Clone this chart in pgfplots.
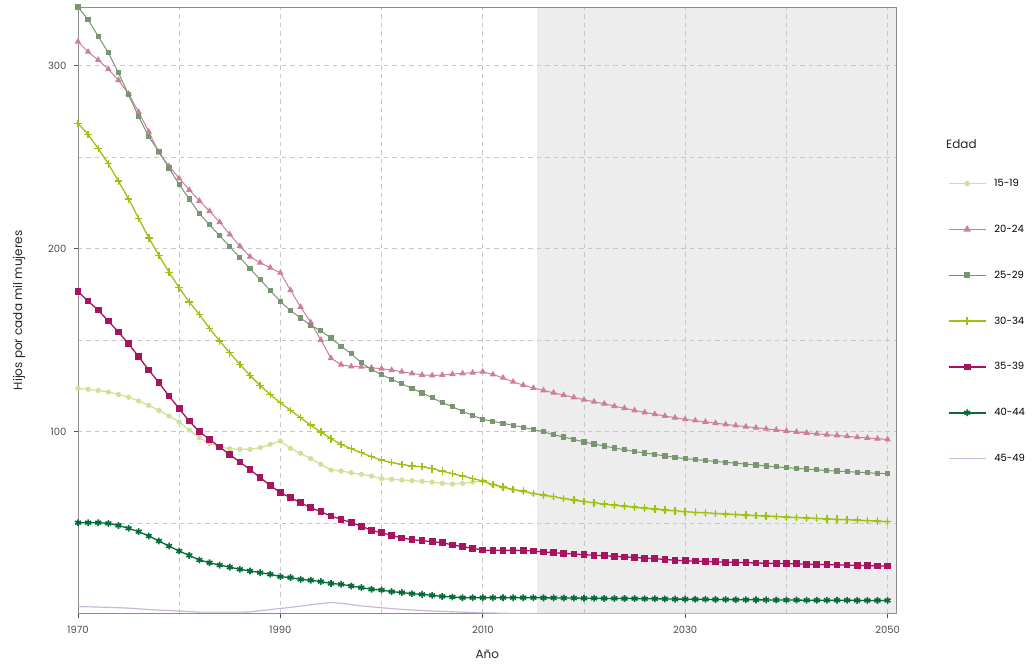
\documentclass[border=0pt]{standalone}
\usepackage{pgfplots}
\pgfplotsset{compat=1.18}
\usepackage{pgfplotstable}
\usepackage{fontspec}
\setmainfont{Poppins}
\definecolor{cA}{HTML}{CFE196}
\definecolor{cB}{HTML}{CC7E9B}
\definecolor{cC}{HTML}{789670}
\definecolor{cD}{HTML}{9DC214}
\definecolor{cE}{HTML}{A8135F}
\definecolor{cF}{HTML}{056B37}
\definecolor{cG}{HTML}{CBB5DA}
\definecolor{shade}{HTML}{EDEDED}
\definecolor{gridc}{HTML}{C8C8C8}
\definecolor{framec}{HTML}{8C8C8C}
\definecolor{tickc}{HTML}{4D4D4D}

\pgfplotstableread{
year a b c d e f g
1970 123.5 313.0 332.0 268.3 176.5 50.1 4.2
1971 123.0 307.5 325.0 262.3 171.2 50.1 4.1
1972 122.4 303.0 316.0 254.6 166.3 50.1 4.0
1973 121.5 298.0 307.0 246.3 160.3 49.7 3.8
1974 120.2 292.0 296.0 236.8 154.3 48.6 3.6
1975 118.7 284.5 284.0 227.1 147.9 47.0 3.4
1976 116.6 274.5 272.0 216.4 140.8 45.2 3.0
1977 114.2 263.8 261.0 205.8 133.5 42.8 2.6
1978 111.5 252.3 253.0 196.2 126.6 40.1 2.3
1979 108.4 245.0 244.0 187.0 119.3 37.3 2.1
1980 105.1 238.3 235.0 178.5 112.4 34.6 1.8
1981 100.7 232.0 227.0 170.7 105.6 32.2 1.5
1982 96.6 226.0 219.0 163.9 99.8 29.7 1.2
1983 93.4 220.4 213.0 156.3 95.6 28.2 1.2
1984 91.6 214.4 207.0 149.4 91.4 26.9 1.2
1985 90.5 207.7 201.0 143.0 87.4 25.8 1.2
1986 90.2 201.3 195.0 136.6 83.2 24.6 1.2
1987 90.2 195.5 189.0 130.6 79.2 23.7 1.3
1988 91.1 192.2 183.0 125.1 74.7 22.8 2.0
1989 92.9 189.5 177.0 120.2 70.5 21.9 2.6
1990 94.7 186.7 171.0 115.7 66.5 20.6 3.2
1991 90.7 177.2 166.0 111.5 63.8 20.1 3.8
1992 88.0 168.0 162.0 107.5 61.0 19.1 4.5
1993 85.1 159.6 158.0 103.4 58.3 18.6 5.2
1994 82.0 150.0 155.0 99.6 56.1 17.9 5.9
1995 78.9 140.0 151.0 96.0 53.7 16.9 6.5
1996 78.3 136.5 146.5 92.9 51.9 16.4 6.0
1997 77.4 135.5 142.5 90.5 50.2 15.5 5.3
1998 76.5 135.3 137.5 88.3 48.2 14.6 4.6
1999 75.6 134.8 133.9 86.2 45.9 13.7 4.1
2000 74.2 134.3 131.0 84.3 44.6 13.3 3.6
2001 73.8 133.5 128.4 82.9 43.2 12.4 3.1
2002 73.4 132.6 126.0 82.0 41.7 11.9 2.7
2003 73.1 131.7 123.5 81.0 40.8 11.3 2.4
2004 72.7 130.9 121.0 80.7 40.3 10.9 2.1
2005 72.3 130.6 118.4 79.6 39.7 10.4 1.8
2006 71.6 130.8 115.7 78.3 39.2 9.8 1.6
2007 71.2 131.3 113.5 76.9 37.9 9.5 1.4
2008 71.6 131.7 111.0 75.6 37.0 9.1 1.2
2009 72.3 132.1 108.7 74.2 36.1 9.1 1.0
2010 72.9 132.6 106.6 72.9 35.1 9.1 0.8
2011 70.7 131.1 105.5 71.0 35.0 9.1 0.7
2012 69.3 129.3 104.4 69.6 35.0 9.1 0.6
2013 68.0 127.1 103.3 68.3 35.0 9.1 0.5
2014 67.1 125.3 102.2 67.4 34.9 9.1 0.5
2015 65.8 123.7 101.0 66.1 34.6 9.1 0.4
2016 64.9 122.4 99.8 65.2 34.1 9.0 0.4
2017 64.0 121.1 98.2 64.3 33.7 9.0 0.4
2018 63.1 119.8 96.9 63.4 33.3 8.9 0.4
2019 62.2 118.6 95.6 62.5 33.0 8.9 0.4
2020 61.4 117.3 94.2 61.7 32.6 8.8 0.4
2021 60.7 116.2 93.1 61.0 32.3 8.8 0.4
2022 60.0 115.1 92.0 60.3 32.0 8.7 0.4
2023 59.4 113.8 90.9 59.7 31.7 8.7 0.4
2024 58.9 112.7 90.0 59.2 31.4 8.6 0.4
2025 58.3 111.5 89.0 58.6 31.1 8.6 0.4
2026 57.8 110.4 88.2 58.1 30.7 8.5 0.4
2027 57.3 109.4 87.4 57.6 30.4 8.5 0.4
2028 56.8 108.4 86.6 57.1 30.0 8.4 0.4
2029 56.3 107.5 85.8 56.6 29.6 8.3 0.4
2030 55.8 106.6 85.1 56.1 29.3 8.3 0.4
2031 55.5 105.9 84.6 55.8 29.1 8.2 0.4
2032 55.2 105.2 84.1 55.5 28.9 8.2 0.4
2033 54.9 104.5 83.6 55.2 28.7 8.1 0.4
2034 54.6 103.8 83.1 54.9 28.5 8.1 0.4
2035 54.3 103.2 82.6 54.6 28.4 8.0 0.4
2036 54.0 102.6 82.1 54.3 28.2 8.0 0.4
2037 53.7 102.0 81.6 54.0 28.1 7.9 0.4
2038 53.4 101.4 81.1 53.7 27.9 7.9 0.4
2039 53.2 100.8 80.6 53.5 27.8 7.8 0.4
2040 52.9 100.2 80.2 53.2 27.7 7.8 0.4
2041 52.7 99.7 79.8 53.0 27.6 7.8 0.4
2042 52.4 99.2 79.4 52.7 27.4 7.7 0.4
2043 52.2 98.7 79.0 52.5 27.3 7.7 0.4
2044 51.9 98.2 78.6 52.2 27.2 7.7 0.4
2045 51.7 97.8 78.3 52.0 27.0 7.7 0.4
2046 51.4 97.3 78.0 51.7 26.9 7.7 0.4
2047 51.2 96.8 77.7 51.5 26.8 7.6 0.4
2048 50.9 96.4 77.4 51.2 26.6 7.6 0.4
2049 50.7 96.0 77.1 51.0 26.5 7.6 0.4
2050 50.4 95.6 76.9 50.7 26.4 7.6 0.4
}\data

\begin{document}
\begin{tikzpicture}
\begin{axis}[
  name=ax,
  set layers,
  at={(78pt,55pt)}, anchor=south west,
  scale only axis,
  width=819pt, height=607pt,
  xmin=1970, xmax=2050.9,
  ymin=0.3, ymax=332,
  xtick={1970,1990,2010,2030,2050},
  minor xtick={1980,2000,2020,2040},
  ytick={100,200,300},
  minor ytick={50,150,250},
  grid=both,
  major grid style={gridc, dash pattern=on 4.5pt off 4pt, line width=0.6pt},
  minor grid style={gridc, dash pattern=on 4.5pt off 4pt, line width=0.6pt},
  minor tick length=0pt,
  major tick length=4pt,
  tick align=outside,
  tick pos=left,
  major tick style={tickc, line width=0.8pt},
  axis line style={framec, line width=0.8pt},
  /pgf/number format/assume math mode=true,
  /pgf/number format/1000 sep={},
  ticklabel style={font=\fontsize{10}{12}\selectfont, text=tickc},
  xticklabel style={yshift=-5pt},
  yticklabel style={xshift=-4pt},
  xlabel={Año}, ylabel={Hijos por cada mil mujeres},
  label style={font=\fontsize{12}{14}\selectfont, text=black!85},
  xlabel style={yshift=-9pt},
  ylabel style={yshift=16pt},
  legend style={at={(1,1)}, anchor=north west, xshift=51pt, yshift=-170pt,
    draw=none, fill=none, font=\fontsize{10}{12}\selectfont, row sep=33pt,
    inner sep=0pt, nodes={inner xsep=8pt}},
  legend cell align=left,
  legend image code/.code={\draw[mark repeat=2,mark phase=2, line width=1.5pt] plot coordinates {(0pt,0pt) (18.5pt,0pt) (37pt,0pt)};},
]
\addplot[draw=none, fill=shade, on layer=axis background, forget plot] coordinates {(2015.4,0.3) (2015.4,332) (2050.9,332) (2050.9,0.3)} -- cycle;
\addplot[cA, line width=1.2pt, mark=*, mark size=2pt] table[x=year,y=a]{\data};
\addlegendentry{15-19}
\addplot[cB, line width=1pt, mark=triangle*, mark size=2.8pt] table[x=year,y=b]{\data};
\addlegendentry{20-24}
\addplot[cC, line width=1pt, mark=square*, mark size=2.1pt] table[x=year,y=c]{\data};
\addlegendentry{25-29}
\addplot[cD, line width=1.3pt, mark=+, mark size=3.8pt, mark options={line width=1.4pt}] table[x=year,y=d]{\data};
\addlegendentry{30-34}
\addplot[cE, line width=1.3pt, mark=square*, mark size=2.7pt] table[x=year,y=e]{\data};
\addlegendentry{35-39}
\addplot[cF, line width=1.3pt, mark=asterisk, mark size=3.4pt, mark options={line width=1.6pt}] table[x=year,y=f]{\data};
\addlegendentry{40-44}
\addplot[cG, line width=1.2pt] table[x=year,y=g]{\data};
\addlegendentry{45-49}
\end{axis}
\node[anchor=base west, font=\fontsize{12}{14}\selectfont, text=black!85] at ([xshift=46pt, yshift=-142pt]ax.north east) {Edad};
\path (0,0) rectangle (1033pt,669pt);
\end{tikzpicture}
\end{document}
